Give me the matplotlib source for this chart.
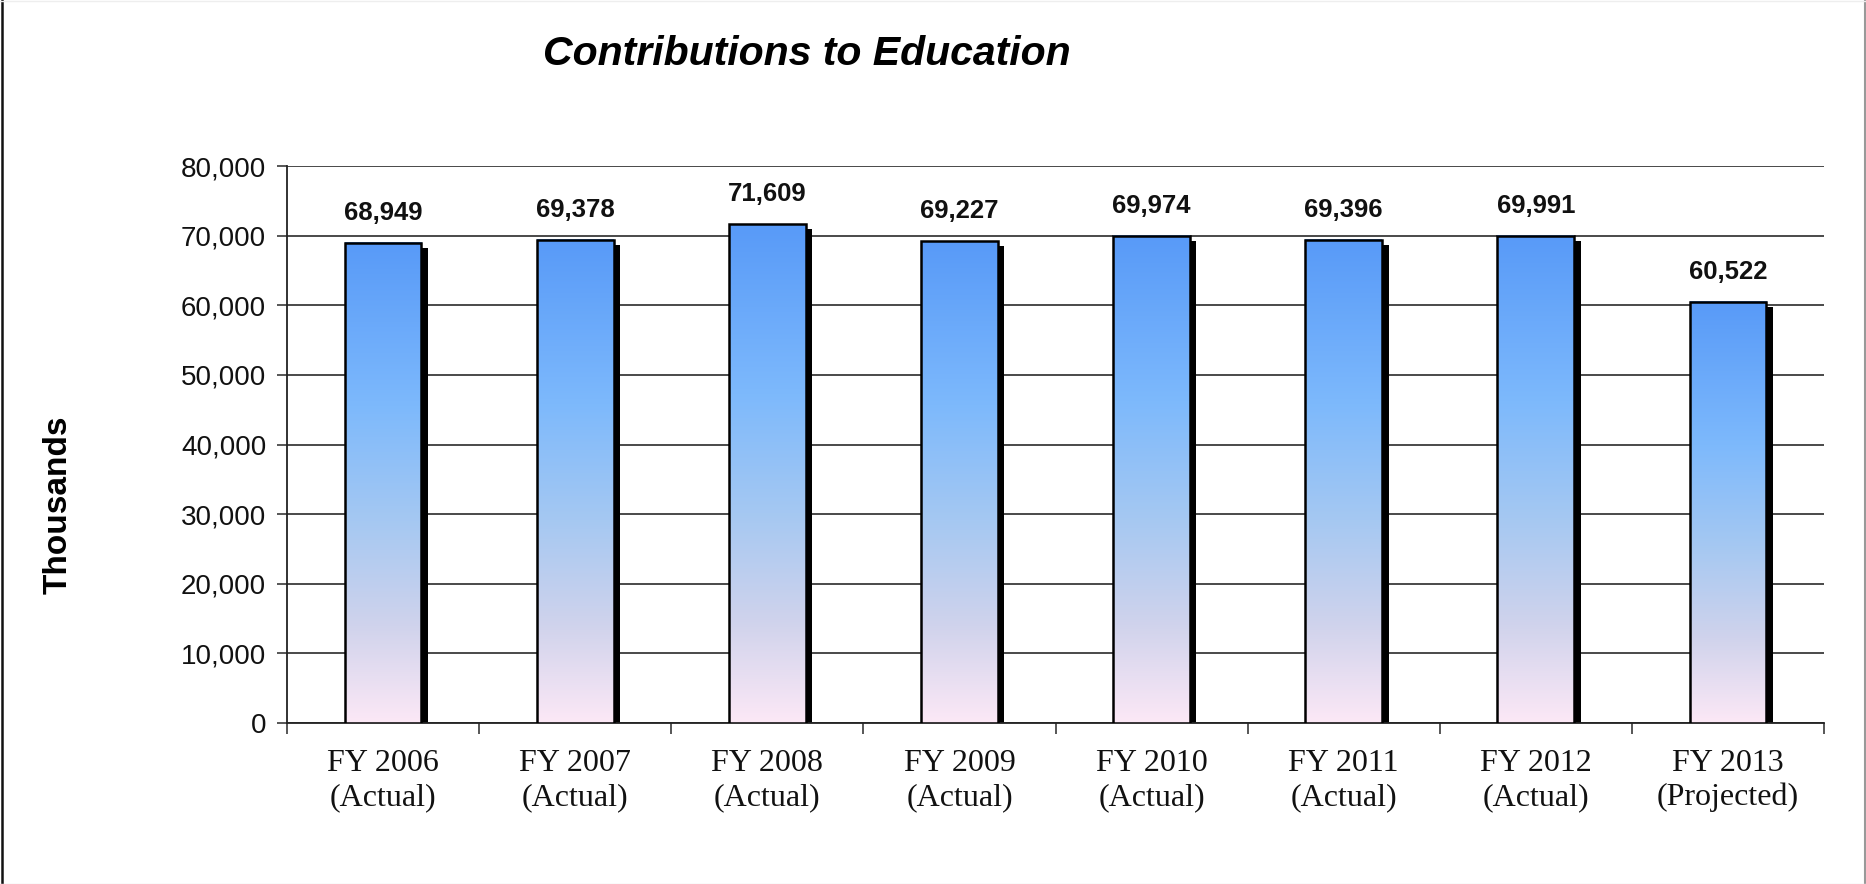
import numpy as np
import matplotlib
matplotlib.use("Agg")
import matplotlib.pyplot as plt
from matplotlib.colors import LinearSegmentedColormap
from matplotlib.patches import Rectangle
from matplotlib.lines import Line2D
import matplotlib.transforms as mtransforms

# Data
years = ["FY 2006", "FY 2007", "FY 2008", "FY 2009", "FY 2010", "FY 2011", "FY 2012", "FY 2013"]
status = ["(Actual)", "(Actual)", "(Actual)", "(Actual)", "(Actual)", "(Actual)", "(Actual)", "(Projected)"]
values = [68949, 69378, 71609, 69227, 69974, 69396, 69991, 60522]
yticks = [0, 10000, 20000, 30000, 40000, 50000, 60000, 70000, 80000]

W, H, DPI = 1866, 884, 100
fig = plt.figure(figsize=(W / DPI, H / DPI), dpi=DPI)
fig.patch.set_facecolor("white")

ax = fig.add_axes([287 / W, 1 - 723 / H, (1824 - 287) / W, (723 - 166) / H])
ax.set_xlim(-0.5, len(values) - 0.5)
ax.set_ylim(0, 80000)

# Vertical gradient used for each bar (bottom -> top)
grad_cmap = LinearSegmentedColormap.from_list(
    "barfill",
    [(0.0, (252/255, 232/255, 246/255)),
     (0.2, (208/255, 211/255, 236/255)),
     (0.42, (165/255, 200/255, 242/255)),
     (0.66, (125/255, 185/255, 252/255)),
     (1.0, (88/255, 154/255, 248/255))])
gradient = np.linspace(0, 1, 256).reshape(-1, 1)

bar_w = 0.40
shadow_shift = mtransforms.ScaledTranslation(6.5 / DPI, -5 / DPI, fig.dpi_scale_trans)

for i, v in enumerate(values):
    x0 = i - bar_w / 2
    # drop shadow to the lower right, clipped at the baseline
    sh = Rectangle((x0, 0), bar_w, v, facecolor="black", edgecolor="none",
                   transform=ax.transData + shadow_shift, zorder=2)
    ax.add_patch(sh)
    clip = Rectangle((-0.5, 0), len(values), 90000, transform=ax.transData)
    sh.set_clip_path(clip)
    # gradient body
    ax.imshow(gradient, cmap=grad_cmap, origin="lower", aspect="auto",
              extent=[x0, x0 + bar_w, 0, v], zorder=3, interpolation="bicubic")
    ax.add_patch(Rectangle((x0, 0), bar_w, v, facecolor="none",
                           edgecolor="black", linewidth=1.8, zorder=4))
    ax.annotate(f"{v:,}", xy=(i, v), xytext=(0, 13), textcoords="offset points",
                ha="center", va="bottom", fontsize=18.5, fontweight="bold",
                family="Liberation Sans", color="#111111", zorder=5)

ax.set_xlim(-0.5, len(values) - 0.5)
ax.set_ylim(0, 80000)

# Gridlines
ax.set_yticks(yticks)
ax.set_yticklabels([f"{t:,}" for t in yticks], fontsize=20, family="Liberation Sans", color="#111111")
ax.yaxis.grid(True, color="#3a3a3a", linewidth=1.3, zorder=1)
ax.set_axisbelow(True)
ax.tick_params(axis="y", direction="out", length=7, width=1.2, color="#3a3a3a", pad=8)

# Category labels, tick marks on category boundaries
ax.set_xticks(range(len(values)))
ax.set_xticklabels([f"{y}\n{s}" for y, s in zip(years, status)],
                   fontsize=23, family="Liberation Serif", color="#111111", linespacing=1.2)
ax.tick_params(axis="x", which="major", length=0, pad=19)
ax.set_xticks(np.arange(-0.5, len(values), 1.0), minor=True)
ax.tick_params(axis="x", which="minor", direction="out", length=8, width=1.2, color="#3a3a3a")

for side in ["top", "right"]:
    ax.spines[side].set_visible(False)
ax.spines["left"].set_color("#222222")
ax.spines["left"].set_linewidth(1.3)
ax.spines["bottom"].set_color("#222222")
ax.spines["bottom"].set_linewidth(1.3)

fig.text(807 / W, 1 - 54 / H, "Contributions to Education", ha="center", va="center",
         fontsize=29.5, fontweight="bold", style="italic", family="Liberation Sans")
fig.text(58 / W, 1 - 505 / H, "Thousands", ha="center", va="center", rotation=90,
         fontsize=24, fontweight="bold", family="Liberation Sans")

# Outer frame: dark left edge, grey right edge, faint top and bottom
fig.add_artist(Line2D([1.5 / W, 1.5 / W], [0, 1], transform=fig.transFigure,
                      color="#111111", linewidth=1.8))
fig.add_artist(Line2D([1 - 1.5 / W, 1 - 1.5 / W], [0, 1], transform=fig.transFigure,
                      color="#999999", linewidth=1.5))
fig.add_artist(Line2D([0, 1], [1 - 0.5 / H, 1 - 0.5 / H], transform=fig.transFigure,
                      color="#eeeeee", linewidth=1.0))
fig.add_artist(Line2D([0, 1], [0.5 / H, 0.5 / H], transform=fig.transFigure,
                      color="#e6e6e6", linewidth=1.0))

fig.savefig("out.png", dpi=DPI, facecolor="white")
